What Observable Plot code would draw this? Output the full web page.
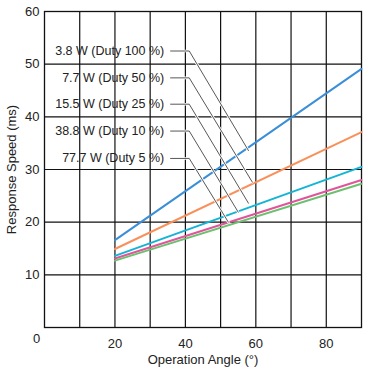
<!DOCTYPE html>
<html>
<head>
<meta charset="utf-8">
<script src="https://cdn.jsdelivr.net/npm/d3@7"></script>
<script src="https://cdn.jsdelivr.net/npm/@observablehq/plot@0.6"></script>
<style>
  html, body { margin: 0; padding: 0; background: #fff; }
  #chart svg { display: block; font-family: "Liberation Sans", Arial, sans-serif; }
</style>
</head>
<body>
<div id="chart"></div>
<script>
// ---- data ----
const seriesNames = ["3.8 W (Duty 100 %)", "7.7 W (Duty 50 %)", "15.5 W (Duty 25 %)", "38.8 W (Duty 10 %)", "77.7 W (Duty 5 %)"];
const colors = ["#3b8ed8", "#f9905a", "#14b4d4", "#e0559a", "#6cc070"];
const angleStart = 20;
const angleEnd = 90;
const speedAtStart = [16.6, 14.9, 13.6, 13.1, 12.7];
const speedAtEnd = [49.1, 37.1, 30.5, 28.0, 27.3];
// annotation leader data (label position and where it points)
const labelX = 34.0;
const leaderStartX = 35.8;
const leaderCornerX = 41.1;
const labelY = [52.5, 47.4, 42.4, 37.3, 32.1];
const leaderEndX = [57.9, 59.0, 57.9, 55.0, 52.2];
const leaderEndY = [33.6, 27.6, 23.6, 21.9, 20.0];
const xTicks = [20, 40, 60, 80];
const yTicks = [10, 20, 30, 40, 50, 60];
const gridX = [10, 20, 30, 40, 50, 60, 70, 80];
const gridY = [10, 20, 30, 40, 50];

// ---- build tables ----
const lineData = [];
seriesNames.forEach((s, i) => {
  lineData.push({series: s, angle: angleStart, speed: speedAtStart[i]});
  lineData.push({series: s, angle: angleEnd, speed: speedAtEnd[i]});
});
const leaderData = [];
seriesNames.forEach((s, i) => {
  leaderData.push({series: s, x: leaderStartX, y: labelY[i]});
  leaderData.push({series: s, x: leaderCornerX, y: labelY[i]});
  leaderData.push({series: s, x: leaderEndX[i], y: leaderEndY[i]});
});
const labelData = seriesNames.map((s, i) => ({series: s, x: labelX, y: labelY[i]}));

const textColor = "#222";

const chart = Plot.plot({
  width: 373,
  height: 371,
  marginLeft: 44,
  marginRight: 12,
  marginTop: 11,
  marginBottom: 44,
  x: {domain: [0, 90]},
  y: {domain: [0, 60]},
  style: {fontFamily: "'Liberation Sans', Arial, sans-serif", fontSize: "13px", color: textColor, background: "#fff"},
  marks: [
    Plot.ruleX(gridX, {stroke: "#111", strokeWidth: 1.2}),
    Plot.ruleY(gridY, {stroke: "#111", strokeWidth: 1.2}),
    Plot.frame({stroke: "#111", strokeWidth: 1.3}),
    Plot.line(lineData, {x: "angle", y: "speed", z: "series", stroke: (d) => colors[seriesNames.indexOf(d.series)], strokeWidth: 2}),
    Plot.line(leaderData, {x: "x", y: "y", z: "series", stroke: "#fff", strokeWidth: 2.6}),
    Plot.line(leaderData, {x: "x", y: "y", z: "series", stroke: "#444", strokeWidth: 0.9}),
    Plot.text(labelData, {x: "x", y: "y", text: "series", textAnchor: "end", fontSize: 12.5, fill: textColor}),
    Plot.axisX({ticks: xTicks, tickSize: 0, tickPadding: 11, fontSize: 13, label: "Operation Angle (°)", labelAnchor: "center", labelOffset: 36, labelArrow: "none"}),
    Plot.text([0], {x: 0, y: 0, text: () => "0", dx: -8, dy: 11, lineAnchor: "middle", fontSize: 13, fill: textColor, frameAnchor: "bottom"}),
    Plot.axisY({ticks: yTicks, tickSize: 0, tickPadding: 5, fontSize: 13, label: "Response Speed (ms)", labelAnchor: "center", labelOffset: 38, labelArrow: "none"})
  ]
});
document.getElementById("chart").appendChild(chart);
</script>
</body>
</html>
